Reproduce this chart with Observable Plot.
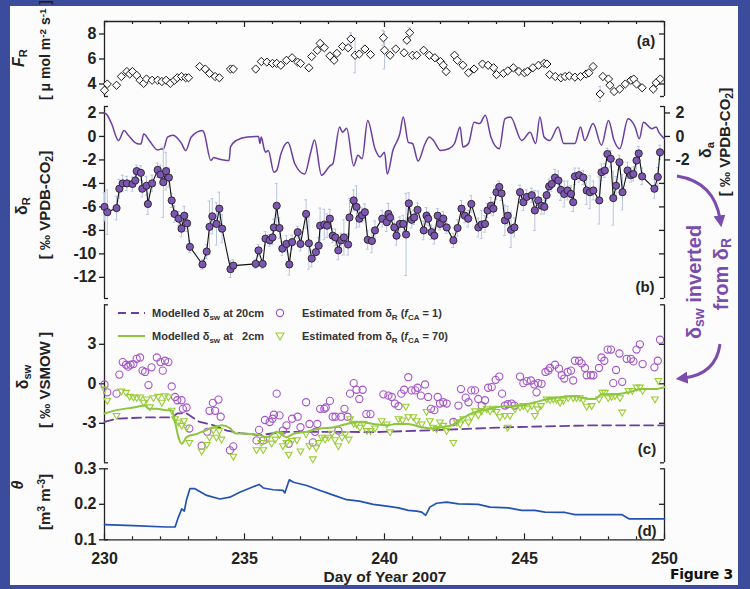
<!DOCTYPE html>
<html><head><meta charset="utf-8">
<script src="https://cdn.jsdelivr.net/npm/d3@7"></script>
<script src="https://cdn.jsdelivr.net/npm/@observablehq/plot@0.6"></script>
<style>
body{margin:0;}
#fig{position:relative;width:750px;height:589px;background:#3b4c9c;overflow:hidden;font-family:"Liberation Sans",Arial,Helvetica,sans-serif;}
#paper{position:absolute;left:10px;top:6px;width:728px;height:579px;background:#fcfcfc;}
.layer{position:absolute;left:0;top:0;}
.lab{position:absolute;font-weight:bold;white-space:nowrap;color:#222;transform:translate(-50%,-50%) rotate(-90deg);line-height:1;}
.lab sub{font-size:70%;vertical-align:-0.25em;}
.lab sup{font-size:70%;vertical-align:0.5em;}
.txt{position:absolute;font-weight:bold;white-space:nowrap;color:#222;transform:translate(-50%,-50%);line-height:1;}
</style></head>
<body><div id="fig"><div id="paper"></div></div>
<script>
// ---------- DATA ----------
const xTicks = [230, 235, 240, 245, 250];
// (a) soil respiration flux F_R : [day, value, error]
const fluxR = [[230.0,3.5],[230.1,4.0],[230.43,3.9],[230.6,4.6],[230.8,5.0],[230.9,4.8],[231.0,5.0],[231.15,4.7],[231.27,4.3],[231.4,4.05],[231.5,4.4],[231.7,4.3],[231.9,4.3],[232.05,4.2],[232.2,4.3],[232.35,4.05],[232.5,4.3],[232.6,4.5],[232.75,4.6],[232.9,4.5],[233.0,4.5],[233.4,5.4],[233.6,5.2],[233.75,4.85],[233.95,4.6],[234.1,4.5],[234.5,5.2],[234.6,5.2],[235.4,5.2],[235.6,5.8],[235.8,5.75],[236.0,5.65],[236.15,5.65],[236.3,5.5],[236.5,5.9],[236.7,6.1],[236.9,5.75],[237.0,5.65],[237.3,5.3],[237.4,6.2],[237.6,6.7],[237.7,7.25],[237.85,6.9],[238.05,6.25],[238.2,5.9],[238.3,6.45],[238.5,7.0],[238.7,6.9],[238.8,7.6,0.5],[238.95,6.3,1.4],[239.1,6.4],[239.3,6.8],[239.5,6.35],[239.96,7.7,0.6],[240.0,6.7,1.5],[240.2,6.3],[240.4,6.8],[240.7,6.5],[240.8,7.5],[240.9,8.1,0.4],[241.0,6.3],[241.15,6.3],[241.4,6.7],[241.6,6.3],[241.8,6.1],[242.0,5.8],[242.1,5.5],[242.2,5.0],[242.5,6.3],[242.6,5.9],[242.8,5.5],[243.0,4.9],[243.2,5.2],[243.5,5.6],[243.7,5.5],[243.9,5.3],[244.0,4.75],[244.25,4.85],[244.4,5.05],[244.6,5.3],[244.8,5.0],[245.0,4.9],[245.1,5.0],[245.3,5.3],[245.5,5.5],[245.7,5.65],[245.8,5.6],[245.9,4.75],[246.1,4.6],[246.3,4.5],[246.45,4.6],[246.6,4.65],[246.8,4.55],[247.0,4.6],[247.2,4.8],[247.3,4.9],[247.45,5.4],[247.7,3.2,0.6],[247.8,4.6],[248.0,4.4],[248.05,3.9],[248.2,3.4],[248.4,3.6],[248.6,4.0],[248.8,4.3],[248.9,4.4],[249.0,4.0],[249.2,3.7],[249.6,3.6],[249.7,4.1],[249.85,4.4]];
// (b) atmospheric delta_a : [day, value]
const deltaA = [[230.0,2.0],[230.07,1.9],[230.25,1.1],[230.5,-0.35],[230.7,0.5],[230.85,0.1],[231.15,-0.6],[231.3,-0.65],[231.4,0.2],[231.6,-0.35],[231.9,-1.15],[232.05,-1.05],[232.1,-1.1],[232.25,-0.05],[232.45,0.1],[232.75,-0.6],[232.9,-1.2],[233.1,-0.05],[233.5,0.5],[233.55,0.35],[233.8,-2.05],[233.9,-1.8],[234.05,-1.9],[234.25,-2.0],[234.45,-2.05],[234.5,-0.9],[234.7,-0.35],[235.1,-0.05],[235.5,0.0],[235.55,-0.6],[235.6,-0.05],[235.7,-1.05],[235.75,-1.35],[235.85,-1.2],[236.05,-3.05],[236.15,-2.9],[236.3,-1.5],[236.55,-0.5],[236.8,-2.35],[237.15,-3.2],[237.35,-1.5],[237.5,-0.3],[237.75,-3.3],[238.05,-2.5],[238.15,-2.35],[238.4,0.8],[238.5,0.35],[238.65,0.7],[238.9,-2.5],[239.05,-1.6],[239.2,-1.9],[239.4,1.35],[239.66,-1.05],[239.84,-1.75],[240.0,-1.35],[240.1,-3.2],[240.3,-1.2],[240.55,0.25],[240.67,1.65],[240.85,-0.5],[241.0,-0.6],[241.2,-2.1],[241.45,-0.6],[241.6,-0.05],[241.75,-0.35],[242.0,-1.2],[242.3,-1.05],[242.5,-0.6],[242.7,0.8],[242.8,-0.9],[243.0,-0.6],[243.2,1.2],[243.4,1.1],[243.6,1.8],[243.8,-0.05],[244.1,-1.05],[244.3,1.5],[244.5,1.65],[244.9,-0.35],[245.2,0.35],[245.4,-0.6],[245.55,1.65],[245.7,-0.05],[245.9,-0.35],[246.2,0.8],[246.4,-0.6],[246.8,-0.6],[247.0,0.8],[247.15,-0.35],[247.45,1.1],[247.75,-0.75],[248.0,1.35],[248.2,-0.35],[248.4,-1.05],[248.7,1.5],[248.95,0.8],[249.1,-0.2],[249.25,1.2],[249.55,0.65],[249.7,0.8],[249.8,0.35],[250.0,-0.2]];
// (b) respired delta_R : [day, value, error]
const deltaR = [[230.0,-6.0,1.2],[230.1,-6.45,1.9],[230.43,-6.1,1.0],[230.53,-4.45,0.8],[230.65,-4.0,0.7],[230.8,-4.0,0.6],[231.0,-4.05,0.6],[231.1,-3.75,0.5],[231.15,-2.95,0.5],[231.3,-3.1,0.6],[231.35,-4.45,0.7],[231.5,-4.2,0.8],[231.55,-5.75,0.9],[231.7,-4.0,0.7],[231.9,-2.85,0.6],[232.0,-3.25,0.8],[232.1,-3.9,3.0],[232.2,-2.95,1.6],[232.3,-3.5,0.8],[232.4,-5.45,0.6],[232.5,-6.6,0.7],[232.65,-7.0,0.6],[232.75,-7.85,0.7],[232.85,-6.75,0.8],[232.95,-7.4,0.7],[233.05,-9.4,0.5],[233.5,-10.9,0.4],[233.65,-9.8,0.6],[233.75,-7.7,2.2],[233.85,-6.8,1.5],[234.0,-7.45,1.8],[234.1,-6.15,1.4],[234.2,-7.85,1.2],[234.5,-11.3,0.7],[234.6,-11.0,0.5],[235.4,-10.85,0.4],[235.5,-9.7,0.5],[235.65,-10.85,0.4],[235.75,-8.7,0.6],[235.9,-8.85,0.5],[236.0,-8.6,0.6],[236.05,-7.75,0.7],[236.15,-5.9,1.9],[236.25,-7.8,0.9],[236.35,-9.55,0.6],[236.5,-9.15,0.7],[236.6,-10.9,0.9],[236.7,-9.0,0.6],[236.9,-8.15,0.5],[237.0,-9.15,0.6],[237.2,-6.6,1.2],[237.3,-9.1,2.2],[237.4,-10.4,0.7],[237.55,-9.85,0.6],[237.65,-9.3,0.7],[237.7,-7.6,1.5],[237.85,-7.5,1.3],[237.95,-7.6,1.0],[238.05,-7.0,0.8],[238.15,-8.45,0.6],[238.25,-8.6,0.7],[238.35,-9.7,0.8],[238.45,-8.85,0.6],[238.55,-8.6,1.5],[238.7,-9.2,0.9],[238.75,-6.9,1.6],[238.9,-5.45,0.9],[239.0,-6.0,1.8],[239.1,-7.0,0.7],[239.2,-6.7,0.6],[239.3,-6.45,0.7],[239.4,-8.8,0.8],[239.55,-8.9,1.0],[239.66,-8.0,0.8],[239.92,-7.0,0.7],[240.08,-7.3,0.8],[240.14,-6.6,0.9],[240.2,-6.9,0.6],[240.35,-7.75,0.7],[240.43,-8.45,0.8],[240.55,-7.45,0.6],[240.67,-7.45,0.7],[240.77,-8.35,3.5],[240.87,-5.7,0.9],[240.97,-7.1,0.7],[241.06,-6.9,0.6],[241.18,-6.25,0.6],[241.4,-8.0,0.8],[241.5,-6.75,0.7],[241.56,-7.0,0.6],[241.68,-8.15,0.6],[241.78,-8.45,0.7],[241.9,-6.75,0.6],[241.98,-7.45,0.5],[242.1,-7.0,0.6],[242.22,-7.75,0.5],[242.46,-8.85,0.6],[242.61,-7.8,0.7],[242.75,-6.15,0.7],[242.87,-6.75,0.6],[242.99,-7.0,0.7],[243.1,-5.75,0.7],[243.35,-7.75,0.8],[243.47,-7.5,1.2],[243.59,-7.45,0.7],[243.68,-6.3,0.6],[243.8,-5.9,0.7],[243.89,-6.15,0.6],[244.0,-4.75,0.6],[244.1,-4.3,0.5],[244.18,-4.85,0.6],[244.3,-7.15,1.3],[244.4,-6.75,0.8],[244.52,-7.95,1.5],[244.64,-7.75,0.8],[244.84,-4.75,0.6],[244.96,-5.6,0.7],[245.08,-5.15,0.6],[245.26,-5.0,0.6],[245.37,-6.3,1.7],[245.49,-5.45,0.8],[245.61,-5.9,0.7],[245.71,-6.0,0.6],[245.79,-5.0,0.7],[245.88,-4.25,0.6],[245.97,-4.05,0.6],[246.09,-3.5,0.7],[246.21,-3.75,0.8],[246.3,-4.55,0.9],[246.42,-4.9,1.1],[246.54,-4.6,0.8],[246.66,-4.9,0.7],[246.74,-5.6,0.8],[246.8,-3.4,0.7],[246.95,-3.3,0.6],[247.1,-3.5,0.6],[247.22,-4.6,1.2],[247.34,-4.75,1.4],[247.46,-4.6,0.8],[247.67,-5.45,2.0],[247.75,-3.05,0.7],[247.87,-2.9,0.6],[247.96,-1.5,0.5],[248.08,-1.9,0.7],[248.17,-5.25,2.3],[248.27,-4.2,0.8],[248.39,-2.2,0.6],[248.5,-4.75,1.5],[248.68,-2.9,0.7],[248.8,-3.3,0.6],[248.89,-3.2,0.6],[249.0,-2.05,0.8],[249.08,-1.45,0.6],[249.2,-3.4,0.7],[249.64,-4.45,0.8],[249.76,-3.45,0.8],[249.84,-1.35,0.6]];
// (c) estimated delta_sw, f_CA = 1 : [day, value]
const estCA1 = [[230.0,-0.05],[230.1,-0.65],[230.43,-0.75],[230.53,0.7],[230.65,1.65],[230.77,1.45],[230.85,1.3],[230.93,1.45],[231.03,1.5],[231.15,1.9],[231.27,2.0],[231.36,1.0],[231.45,0.9],[231.57,-0.1],[231.68,1.25],[231.87,2.0],[232.0,1.65],[232.08,1.0],[232.16,1.75],[232.28,1.65],[232.4,-0.2],[232.52,-1.0],[232.6,-1.25],[232.75,-1.25],[232.8,-1.9],[232.93,-1.8],[233.03,-3.4],[233.47,-4.7],[233.67,-3.65],[233.75,-2.05],[233.87,-1.45],[233.95,-2.05],[234.07,-1.2],[234.15,-2.5],[234.48,-5.05],[234.6,-4.75],[235.43,-4.3],[235.52,-3.5],[235.67,-4.3],[235.73,-2.75],[235.9,-2.9],[236.0,-2.65],[236.05,-2.35],[236.15,-0.75],[236.25,-2.4],[236.37,-3.55],[236.5,-3.15],[236.58,-4.55],[236.7,-2.65],[236.9,-2.5],[237.0,-3.3],[237.2,-1.4],[237.32,-3.05],[237.44,-4.45],[237.52,-3.65],[237.6,-3.05],[237.7,-1.9],[237.85,-1.9],[237.9,-1.8],[238.05,-1.3],[238.15,-2.5],[238.25,-2.5],[238.35,-3.55],[238.45,-2.5],[238.57,-1.9],[238.68,-2.5],[238.77,-0.75],[238.9,0.05],[239.0,-0.45],[239.1,-1.15],[239.22,-0.45],[239.35,-2.3],[239.5,-2.3],[239.96,-0.8],[240.14,-0.9],[240.26,-1.0],[240.37,-1.5],[240.5,-1.7],[240.6,-0.75],[240.7,-0.45],[240.85,0.5],[240.97,-0.5],[241.1,-0.5],[241.18,-0.3],[241.3,-0.9],[241.45,-0.05],[241.56,-1.0],[241.66,-1.9],[241.78,-2.0],[241.9,-1.0],[241.98,-1.5],[242.1,-1.4],[242.22,-1.5],[242.46,-2.9],[242.64,-1.65],[242.73,-0.4],[242.9,-1.05],[243.0,-1.4],[243.1,-0.5],[243.23,-0.5],[243.35,-1.15],[243.47,-1.65],[243.59,-1.25],[243.7,-0.3],[243.83,-0.25],[243.97,0.3],[244.1,0.55],[244.2,-0.75],[244.3,-1.65],[244.4,-1.55],[244.54,-1.5],[244.64,-1.65],[244.84,0.55],[244.96,0.05],[245.08,0.2],[245.23,0.25],[245.35,-0.05],[245.43,-0.65],[245.49,0.05],[245.61,0.0],[245.75,0.9],[245.85,1.0],[245.91,1.2],[246.09,1.45],[246.23,1.15],[246.33,0.65],[246.42,0.4],[246.54,0.9],[246.66,1.0],[246.74,0.25],[246.8,1.75],[246.95,1.75],[247.04,1.55],[247.16,1.2],[247.22,0.65],[247.37,0.65],[247.46,0.65],[247.66,1.2],[247.75,2.0],[247.85,1.75],[247.97,2.6],[248.09,2.6],[248.17,0.05],[248.27,1.05],[248.39,2.3],[248.49,0.15],[248.65,1.9],[248.8,1.9],[248.89,1.7],[249.0,2.6],[249.12,3.0],[249.22,1.5],[249.64,1.25],[249.76,1.75],[249.84,3.35]];
// (c) estimated delta_sw, f_CA = 70 : [day, value]
const estCA70 = [[230.0,-0.4],[230.1,-1.25],[230.43,-2.4],[230.6,-0.55],[230.77,-0.65],[230.9,-0.95],[231.03,-1.0],[231.15,-1.05],[231.27,-1.0],[231.4,-1.4],[231.5,-1.15],[231.62,-1.75],[231.75,-1.05],[231.92,-0.95],[232.05,-1.4],[232.16,-0.9],[232.28,-1.0],[232.4,-2.0],[232.52,-2.65],[232.64,-2.9],[232.76,-3.15],[232.84,-2.8],[232.93,-3.3],[233.03,-4.45],[233.47,-5.1],[233.65,-4.6],[233.75,-4.05],[233.89,-3.5],[234.0,-4.05],[234.1,-3.55],[234.18,-4.2],[234.6,-5.5],[235.43,-5.0],[235.6,-4.45],[235.67,-5.0],[235.8,-4.2],[235.97,-4.5],[236.1,-4.2],[236.25,-3.85],[236.37,-4.7],[236.5,-4.45],[236.58,-5.35],[236.7,-4.3],[236.87,-4.25],[237.0,-5.1],[237.2,-3.8],[237.32,-4.7],[237.44,-5.7],[237.56,-4.85],[237.65,-4.45],[237.76,-4.05],[237.88,-4.2],[238.0,-4.05],[238.12,-3.75],[238.23,-4.25],[238.35,-4.7],[238.48,-4.05],[238.6,-3.8],[238.72,-4.2],[238.77,-2.65],[238.9,-3.0],[239.0,-3.05],[239.12,-3.3],[239.25,-3.0],[239.37,-3.55],[239.5,-3.55],[239.66,-3.35],[239.9,-2.8],[240.08,-3.05],[240.2,-3.65],[240.5,-2.65],[240.64,-2.75],[240.76,-1.7],[240.85,-2.5],[241.03,-2.5],[241.15,-2.8],[241.33,-3.05],[241.5,-2.1],[241.62,-2.8],[241.74,-3.3],[241.86,-3.4],[241.98,-2.9],[242.1,-3.15],[242.22,-3.55],[242.46,-4.45],[242.58,-2.9],[242.7,-3.05],[242.81,-2.65],[243.0,-2.9],[243.1,-2.5],[243.23,-2.05],[243.35,-2.35],[243.47,-2.05],[243.65,-1.9],[243.77,-2.05],[243.89,-1.85],[244.0,-2.1],[244.12,-2.5],[244.3,-2.4],[244.4,-3.3],[244.48,-2.4],[244.66,-1.9],[244.84,-1.75],[244.96,-1.65],[245.11,-1.85],[245.26,-1.65],[245.37,-2.4],[245.47,-1.9],[245.59,-1.65],[245.79,-1.15],[245.91,-1.2],[246.03,-1.15],[246.15,-1.2],[246.27,-1.4],[246.39,-1.25],[246.56,-1.05],[246.74,-1.05],[246.86,-1.05],[246.98,-1.05],[247.1,-1.2],[247.22,-1.7],[247.4,-1.65],[247.66,-1.15],[247.78,-0.65],[247.87,-0.65],[247.99,-1.05],[248.11,-0.95],[248.23,-0.9],[248.41,-1.05],[248.49,-2.15],[248.71,-0.5],[248.85,-0.5],[249.0,-0.25],[249.12,-0.25],[249.22,-0.5],[249.66,-1.15],[249.78,0.25]];
// (c) modelled delta_sw at 2 cm : [day, value]
const model2cm = [[230.0,-2.25],[230.43,-2.0],[231.03,-1.8],[231.45,-1.65],[231.57,-1.9],[231.87,-1.9],[232.2,-2.0],[232.4,-2.0],[232.52,-2.9],[232.64,-4.05],[232.76,-4.55],[232.93,-4.05],[233.3,-3.8],[233.6,-3.55],[233.9,-3.3],[234.2,-3.15],[234.5,-3.4],[234.65,-3.75],[235.1,-3.8],[235.55,-3.9],[235.8,-4.05],[236.15,-3.65],[236.5,-4.05],[236.75,-3.8],[237.2,-3.65],[237.7,-3.4],[238.2,-3.3],[238.65,-3.05],[239.1,-2.9],[239.6,-3.05],[240.14,-3.15],[240.37,-3.05],[240.85,-3.05],[241.33,-3.3],[241.74,-3.4],[242.04,-3.3],[242.4,-3.15],[242.64,-2.8],[243.23,-2.15],[243.59,-2.0],[243.95,-1.8],[244.42,-1.7],[244.9,-1.65],[245.37,-1.4],[245.85,-1.15],[246.33,-1.0],[246.8,-0.95],[247.28,-1.15],[247.52,-1.15],[247.75,-0.8],[248.23,-0.8],[248.7,-0.65],[249.18,-0.4],[249.66,-0.4],[250.0,-0.25]];
// (c) modelled delta_sw at 20 cm : [day, value]
const model20cm = [[230.0,-2.9],[230.43,-2.65],[231.5,-2.55],[232.4,-2.55],[232.6,-2.25],[232.93,-2.25],[233.4,-2.9],[233.9,-3.15],[234.37,-3.55],[234.85,-3.75],[235.55,-3.9],[236.4,-3.65],[237.0,-3.65],[238.2,-3.65],[239.66,-3.67],[242.04,-3.5],[244.4,-3.3],[247.5,-3.15],[250.0,-3.15]];
// (d) soil water content theta : [day, value]
const theta = [[230.0,0.143],[231.03,0.140],[232.2,0.136],[232.52,0.136],[232.64,0.164],[232.76,0.187],[232.85,0.181],[232.93,0.213],[233.05,0.244],[233.23,0.244],[233.65,0.225],[234.12,0.215],[234.48,0.220],[234.83,0.234],[235.43,0.253],[235.52,0.256],[235.67,0.246],[236.02,0.241],[236.38,0.239],[236.44,0.232],[236.6,0.269],[236.75,0.262],[237.22,0.253],[237.7,0.239],[238.2,0.225],[238.65,0.213],[239.1,0.209],[239.6,0.200],[240.14,0.194],[240.5,0.190],[240.85,0.183],[241.15,0.181],[241.33,0.178],[241.47,0.169],[241.62,0.192],[241.86,0.203],[242.22,0.206],[242.64,0.201],[243.35,0.200],[243.77,0.192],[244.42,0.190],[244.9,0.183],[245.37,0.183],[245.73,0.178],[246.45,0.177],[246.8,0.171],[248.47,0.171],[248.73,0.159],[250.0,0.159]];
const ticksA = [4, 6, 8], ticksB = [2, 0, -2, -4, -6, -8, -10, -12], ticksBright = [2, 0, -2], ticksC = [3, 0, -3], ticksD = [0.1, 0.2, 0.3];

// ---------- LAYOUT ----------
const W = 750, H = 589, ML = 104, MR = 86;
const FONT = '"Liberation Sans", Arial, Helvetica, sans-serif';
const INK = "#222";
const PURPLE = "#6b3fa0", DOTPURPLE = "#7d55b2", CIRC = "#a455c8", GREEN = "#8cc63f", TRI = "#9acd32", BLUE = "#2352b3", ERR = "#b9c5e0";
const pxDay = (W - ML - MR) / 20;
const days = d3.range(230, 251);

function panel(top, bottom, ydom, marks) {
  const pxUnit = (bottom - top) / (ydom[1] - ydom[0]);
  const capX = 4 / pxDay;
  const p = Plot.plot({
    width: W, height: H,
    marginLeft: ML, marginRight: MR, marginTop: top, marginBottom: H - bottom,
    x: {domain: [230, 250], axis: null},
    y: {domain: ydom, axis: null},
    style: {background: "transparent", overflow: "visible", fontFamily: FONT, color: INK},
    marks: [
      Plot.ruleX([230, 250], {stroke: INK, strokeWidth: 1.3}),
      Plot.ruleY(ydom, {x1: 230, x2: 230 + capX, stroke: INK, strokeWidth: 1.3}),
      Plot.ruleY(ydom, {x1: 250 - capX, x2: 250, stroke: INK, strokeWidth: 1.3}),
      ...marks(pxUnit)
    ]
  });
  p.classList.add("layer");
  p.style.position = "absolute"; p.style.left = "0px"; p.style.top = "0px";
  document.getElementById("fig").appendChild(p);
}
const leftAxis = (ticks, fmt = d => String(d)) => Plot.axisY(ticks, {anchor: "left", tickSize: 5, tickPadding: 3, tickFormat: fmt, fontSize: 16, fontWeight: "bold", label: null, strokeWidth: 1.3});
const rightIn = (ticks) => Plot.ruleY(ticks, {x1: 250 - 5 / pxDay, x2: 250, stroke: INK, strokeWidth: 1.3});
const errBars = (data, color) => [
  Plot.ruleX(data.filter(d => d[2]), {x: d => d[0], y1: d => d[1] - d[2], y2: d => d[1] + d[2], stroke: color, strokeWidth: 1}),
  Plot.ruleY(data.filter(d => d[2]), {y: d => d[1] - d[2], x1: d => d[0] - 0.05, x2: d => d[0] + 0.05, stroke: color, strokeWidth: 1}),
  Plot.ruleY(data.filter(d => d[2]), {y: d => d[1] + d[2], x1: d => d[0] - 0.05, x2: d => d[0] + 0.05, stroke: color, strokeWidth: 1})
];

// (a)
panel(21, 96, [3, 9], u => [
  Plot.ruleY([9], {stroke: INK, strokeWidth: 1.3}),
  Plot.ruleX(days, {x: d => d, y1: 9, y2: d => 9 - (d % 5 === 0 ? 6 : 3) / u, stroke: INK, strokeWidth: 1.2}),
  leftAxis(ticksA), rightIn(ticksA),
  ...errBars(fluxR, ERR),
  Plot.dot(fluxR, {x: d => d[0], y: d => d[1], symbol: "diamond2", r: 3.7, stroke: "#1a1a1a", fill: "white", strokeWidth: 1})
]);
// (b)
panel(106, 298, [-13.8, 2.55], u => [
  leftAxis(ticksB), rightIn(ticksB.slice(3)),
  Plot.axisY(ticksBright, {anchor: "right", tickSize: 5, tickPadding: 6, tickFormat: d => String(d), fontSize: 16, fontWeight: "bold", label: null, strokeWidth: 1.3}),
  Plot.line(deltaA, {x: d => d[0], y: d => d[1], stroke: PURPLE, strokeWidth: 1.5, curve: "monotone-x"}),
  ...errBars(deltaR, ERR),
  Plot.line(deltaR, {x: d => d[0], y: d => d[1], stroke: "#111", strokeWidth: 1.1}),
  Plot.dot(deltaR, {x: d => d[0], y: d => d[1], r: 3.6, fill: DOTPURPLE, stroke: "#222", strokeWidth: 0.9})
]);
// (c)
panel(304.3, 462.3, [-6, 6], u => [
  leftAxis(ticksC), rightIn(ticksC),
  Plot.line(model20cm, {x: d => d[0], y: d => d[1], stroke: PURPLE, strokeWidth: 1.8, strokeDasharray: "9,5"}),
  Plot.dot(estCA1, {x: d => d[0], y: d => d[1], r: 3.6, stroke: CIRC, fill: "none", strokeWidth: 1.1}),
  Plot.dot(estCA70, {x: d => d[0], y: d => d[1], symbol: "triangle2", rotate: 180, r: 3.2, stroke: TRI, fill: "none", strokeWidth: 1.1}),
  Plot.line(model2cm, {x: d => d[0], y: d => d[1], stroke: GREEN, strokeWidth: 2, curve: "monotone-x"})
]);
// (d)
panel(468.3, 539.3, [0.1, 0.3], u => [
  Plot.ruleY([0.1], {stroke: INK, strokeWidth: 1.3}),
  Plot.ruleX(days, {x: d => d, y1: 0.1, y2: d => 0.1 + (d % 5 === 0 ? 6 : 3) / u, stroke: INK, strokeWidth: 1.2}),
  leftAxis(ticksD, d => d.toFixed(1)), rightIn([0.2]),
  Plot.axisX(xTicks, {anchor: "bottom", tickSize: 0, tickPadding: 13, tickFormat: d => String(d), fontSize: 16, fontWeight: "bold", label: null}),
  Plot.line(theta, {x: d => d[0], y: d => d[1], stroke: BLUE, strokeWidth: 1.7})
]);

// ---------- TEXT & ANNOTATIONS ----------
const fig = document.getElementById("fig");
function lab(html, x, y, size, cls = "lab", color = INK) {
  const el = document.createElement("div");
  el.className = cls; el.innerHTML = html;
  el.style.left = x + "px"; el.style.top = y + "px"; el.style.fontSize = size + "px"; el.style.color = color;
  fig.appendChild(el);
}
lab("<i>F</i><sub>R</sub>", 20, 58, 16);
lab("[ μ mol m<sup>-2</sup> s<sup>-1</sup> ]", 45, 50, 14);
lab("δ<sub>R</sub>", 23, 206, 16);
lab("[ ‰ VPDB-CO<sub>2</sub>]", 46, 205, 15);
lab("δ<sub>sw</sub>", 24, 377, 16);
lab("[ ‰ VSMOW ]", 44, 380, 15);
lab("<i>θ</i>", 18, 485, 16);
lab("[m<sup>3</sup> m<sup>-3</sup>]", 44, 502, 15);
lab("δ<sub>a</sub>", 707, 150, 16);
lab("[ ‰ VPDB-CO<sub>2</sub>]", 726, 142, 15);
lab("δ<sub>sw</sub> inverted", 695, 282, 20, "lab", "#7a4cae");
lab("from δ<sub>R</sub>", 722, 274, 20, "lab", "#7a4cae");
lab("(a)", 646, 40, 15, "txt");
lab("(b)", 645, 286, 15, "txt");
lab("(c)", 647, 448, 15, "txt");
lab("(d)", 647, 530, 15, "txt");
lab("Day of Year 2007", 385, 577, 15.5, "txt");
const f3 = document.createElement("div");
f3.textContent = "Figure 3";
Object.assign(f3.style, {position: "absolute", right: "17px", top: "566px", fontSize: "14px", fontWeight: "900", color: "#111", fontFamily: '"DejaVu Sans", Arial, sans-serif', letterSpacing: "-0.3px"});
fig.appendChild(f3);

const svgNS = "http://www.w3.org/2000/svg";
const ov = document.createElementNS(svgNS, "svg");
ov.setAttribute("width", W); ov.setAttribute("height", H);
ov.setAttribute("class", "layer"); ov.style.position = "absolute";
ov.innerHTML = `
<defs><marker id="ah" viewBox="0 0 10 10" refX="3" refY="5" markerWidth="4" markerHeight="4" orient="auto"><path d="M0,0L10,5L0,10z" fill="#7a4cae"/></marker></defs>
<path d="M677,176 Q714,182 720,219" fill="none" stroke="#7a4cae" stroke-width="3" marker-end="url(#ah)"/>
<path d="M720,344 Q716,374 684,378" fill="none" stroke="#7a4cae" stroke-width="3" marker-end="url(#ah)"/>
<g font-family='${FONT}' font-weight="bold" font-size="11" fill="#333">
<line x1="118" x2="145" y1="313" y2="313" stroke="${PURPLE}" stroke-width="1.8" stroke-dasharray="8,5"/>
<text x="152" y="317">Modelled δ<tspan font-size="8" dy="3">sw</tspan><tspan dy="-3"> at 20cm</tspan></text>
<circle cx="280" cy="313" r="3.6" fill="none" stroke="${CIRC}" stroke-width="1.1"/>
<text x="302" y="317">Estimated from δ<tspan font-size="8" dy="3">R</tspan><tspan dy="-3"> (</tspan><tspan font-style="italic">f</tspan><tspan font-size="8" dy="3">CA</tspan><tspan dy="-3"> = 1)</tspan></text>
<line x1="118" x2="145" y1="336" y2="336" stroke="${GREEN}" stroke-width="2"/>
<text x="152" y="340" xml:space="preserve">Modelled δ<tspan font-size="8" dy="3">sw</tspan><tspan dy="-3"> at   2cm</tspan></text>
<path d="M276,333 L284,333 L280,340 Z" fill="none" stroke="${TRI}" stroke-width="1.1"/>
<text x="302" y="340">Estimated from δ<tspan font-size="8" dy="3">R</tspan><tspan dy="-3"> (</tspan><tspan font-style="italic">f</tspan><tspan font-size="8" dy="3">CA</tspan><tspan dy="-3"> = 70)</tspan></text>
</g>`;
fig.appendChild(ov);
</script>
</body></html>
